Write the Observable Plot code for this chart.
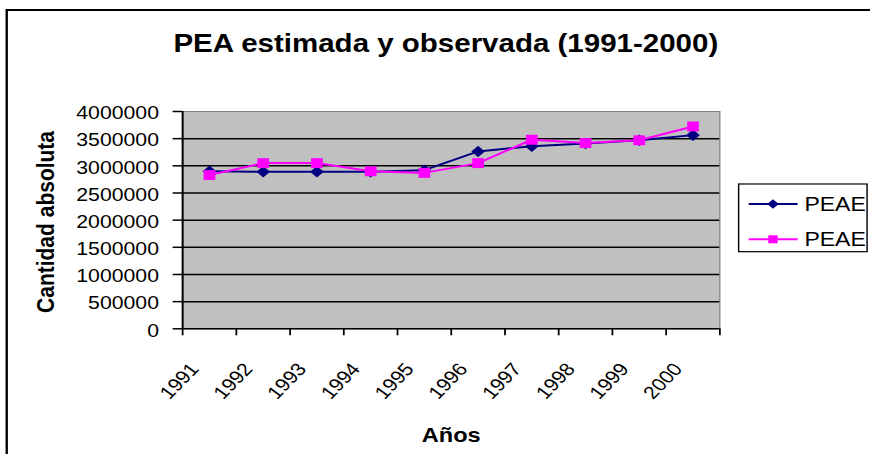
<!DOCTYPE html>
<html>
<head>
<meta charset="utf-8">
<script src="https://cdn.jsdelivr.net/npm/d3@7"></script>
<script src="https://cdn.jsdelivr.net/npm/@observablehq/plot@0.6"></script>
<style>
html, body { margin: 0; padding: 0; background: #fff; overflow: hidden; }
#wrap { width: 737px; height: 454px; transform: scaleX(1.1805); transform-origin: 0 0; }
#wrap svg { overflow: hidden; }
</style>
</head>
<body>
<div id="wrap"></div>
<script>
// ---- data ----
const years = ["1991", "1992", "1993", "1994", "1995", "1996", "1997", "1998", "1999", "2000"];
const peaeEstimada = [2900000, 2890000, 2890000, 2890000, 2920000, 3265000, 3360000, 3410000, 3470000, 3565000];
const peaeObservada = [2830000, 3050000, 3050000, 2900000, 2870000, 3050000, 3480000, 3420000, 3470000, 3725000];
const seriesNames = ["PEAE", "PEAE"];
const seriesColors = ["#000080", "#FF00FF"];
const seriesSymbols = ["diamond2", "square"];
const yTicks = [0, 500000, 1000000, 1500000, 2000000, 2500000, 3000000, 3500000, 4000000];
const titleText = "PEA estimada y observada (1991-2000)";
const xTitle = "Años";
const yTitle = "Cantidad absoluta";

// ---- build ----
const W = 737, H = 454;
const font = "'Liberation Sans', Arial, Helvetica, sans-serif";
const rows1 = years.map((y, i) => ({k: i + 0.5, v: peaeEstimada[i]}));
const rows2 = years.map((y, i) => ({k: i + 0.5, v: peaeObservada[i]}));

const chart = Plot.plot({
  width: W,
  height: H,
  marginLeft: 154.2,
  marginRight: W - 609.3,
  marginTop: 111,
  marginBottom: H - 328.3,
  x: {type: "linear", domain: [0, years.length]},
  y: {domain: [0, 4000000]},
  style: {fontFamily: font, background: "#fff", color: "#000"},
  marks: [
    Plot.frame({fill: "#C0C0C0", stroke: "#808080", strokeWidth: 1}),
    Plot.ruleY(yTicks.filter(t => t > 0 && t < 4000000), {stroke: "#000", strokeWidth: 1.5}),
    Plot.ruleY([0], {stroke: "#000", strokeWidth: 1.5}),
    Plot.ruleX([0], {stroke: "#000", strokeWidth: 1.7}),
    Plot.axisY({ticks: yTicks, tickSize: 8, tickFormat: () => "", label: null, strokeWidth: 1.5}),
    Plot.text(yTicks, {y: d => d, text: d => String(d), frameAnchor: "left", textAnchor: "end", lineAnchor: "middle", dx: -20, dy: 2, fontSize: 18}),
    Plot.axisX({ticks: d3.range(years.length + 1), tickSize: 7, tickFormat: () => "", label: null, strokeWidth: 1.5}),
    Plot.text(years, {x: (d, i) => i + 0.5, frameAnchor: "bottom", rotate: -50, textAnchor: "end", lineAnchor: "middle", dx: -12.5, dy: 37, fontSize: 18}),
    Plot.line(rows1, {x: "k", y: "v", stroke: seriesColors[0], strokeWidth: 2}),
    Plot.dot(rows1, {x: "k", y: "v", symbol: seriesSymbols[0], r: 5.2, fill: seriesColors[0], stroke: "none"}),
    Plot.line(rows2, {x: "k", y: "v", stroke: seriesColors[1], strokeWidth: 2}),
    Plot.dot(rows2, {x: "k", y: "v", symbol: seriesSymbols[1], r: 5.6, fill: seriesColors[1], stroke: "none"}),
    Plot.text([titleText], {frameAnchor: "top", textAnchor: "middle", lineAnchor: "middle", dx: -4.6, dy: -67.6, fontSize: 25, fontWeight: "bold"}),
    Plot.text([xTitle], {frameAnchor: "bottom", textAnchor: "middle", lineAnchor: "middle", dy: 107, fontSize: 20, fontWeight: "bold"}),
    Plot.text([yTitle], {frameAnchor: "left", rotate: -90, textAnchor: "middle", lineAnchor: "middle", dx: -115.4, dy: 1.8, fontSize: 21, fontWeight: "bold"})
  ]
});

// outer chart border (top and left edges visible; right/bottom fall outside the picture)
const svg = d3.select(chart);
svg.append("path")
  .attr("d", "M5.7,2000V10H2000")
  .attr("fill", "none").attr("stroke", "#000").attr("stroke-width", 2);

// legend
const lg = svg.append("g").attr("font-family", font).attr("text-anchor", "start");
lg.append("rect").attr("x", 625.7).attr("y", 184).attr("width", 108.8).attr("height", 67.7)
  .attr("fill", "#fff").attr("stroke", "#000").attr("stroke-width", 1.2);
const rowY = [204, 239.3];
const d3Sym = {diamond2: d3.symbolDiamond2, square: d3.symbolSquare};
seriesNames.forEach((name, i) => {
  lg.append("line").attr("x1", 634.2).attr("x2", 675.7).attr("y1", rowY[i]).attr("y2", rowY[i])
    .attr("stroke", seriesColors[i]).attr("stroke-width", 2);
  lg.append("path").attr("d", d3.symbol(d3Sym[seriesSymbols[i]], i === 0 ? 60 : 64)())
    .attr("transform", `translate(654.8,${rowY[i]})`).attr("fill", seriesColors[i]);
  lg.append("text").attr("x", 681.4).attr("y", rowY[i]).attr("dy", "0.35em")
    .attr("text-anchor", "start").attr("font-size", 19.5).attr("fill", "#000").text(name);
});

document.getElementById("wrap").appendChild(chart);
</script>
</body>
</html>
